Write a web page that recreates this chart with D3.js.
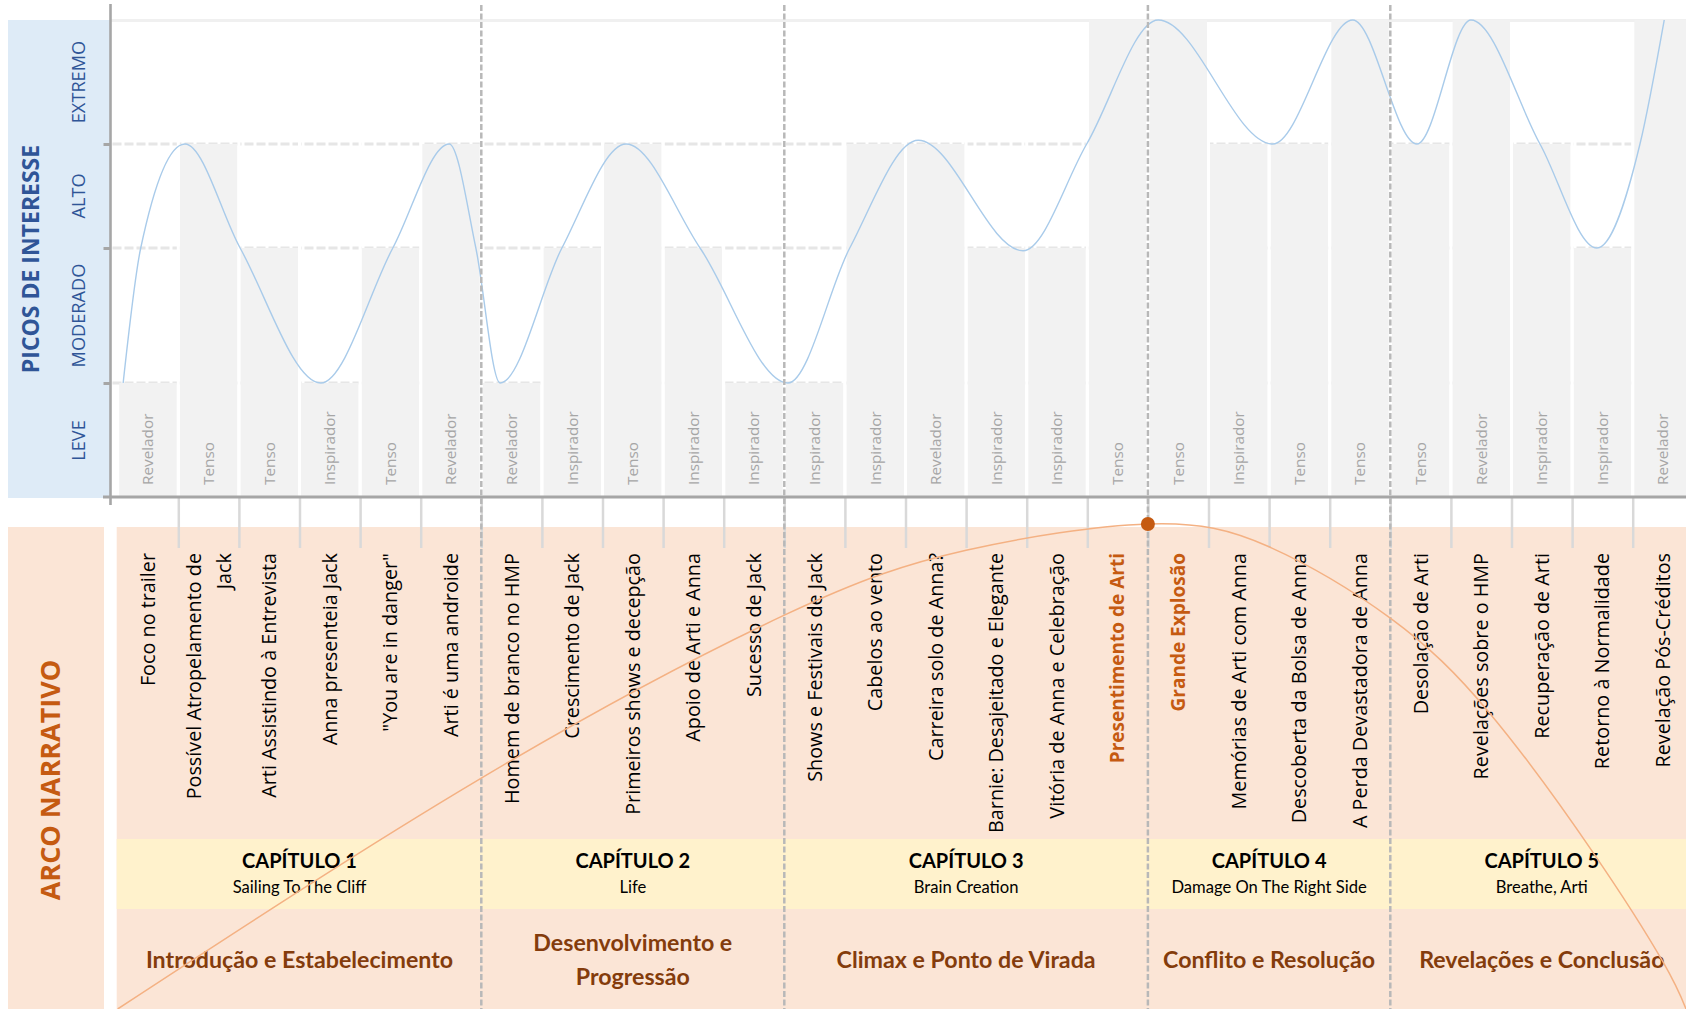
<!DOCTYPE html>
<html>
<head>
<meta charset="utf-8">
<script src="https://cdn.jsdelivr.net/npm/d3@7"></script>
<style>
  html, body { margin: 0; padding: 0; background: #fff; overflow: hidden; }
  svg { display: block; }
</style>
</head>
<body>
<script>
// ---- data ----
var categories = [
  "Foco no trailer", "Possível Atropelamento de\nJack", "Arti Assistindo à Entrevista",
  "Anna presenteia Jack", "\"You are in danger\"", "Arti é uma androide",
  "Homem de branco no HMP", "Crescimento de Jack", "Primeiros shows e decepção",
  "Apoio de Arti e Anna", "Sucesso de Jack",
  "Shows e Festivais de Jack", "Cabelos ao vento", "Carreira solo de Anna?",
  "Barnie: Desajeitado e Elegante", "Vitória de Anna e Celebração", "Presentimento de Arti",
  "Grande Explosão", "Memórias de Arti com Anna", "Descoberta da Bolsa de Anna",
  "A Perda Devastadora de Anna",
  "Desolação de Arti", "Revelações sobre o HMP", "Recuperação de Arti",
  "Retorno à Normalidade", "Revelação Pós-Créditos"
];
var beatTypes = [
  "Revelador", "Tenso", "Tenso", "Inspirador", "Tenso", "Revelador",
  "Revelador", "Inspirador", "Tenso", "Inspirador", "Inspirador",
  "Inspirador", "Inspirador", "Revelador", "Inspirador", "Inspirador", "Tenso",
  "Tenso", "Inspirador", "Tenso", "Tenso",
  "Tenso", "Revelador", "Inspirador", "Inspirador", "Revelador"
];
// 1 = Leve, 2 = Moderado, 3 = Alto, 4 = Extremo
var interestLevels = [1, 3, 2, 1, 2, 3, 1, 2, 3, 2, 1, 1, 3, 3, 2, 2, 4, 4, 3, 3, 4, 3, 4, 3, 2, 4];
var levelNames = ["LEVE", "MODERADO", "ALTO", "EXTREMO"];
var highlighted = ["Presentimento de Arti", "Grande Explosão"];

// smooth interest line (position in category units, level)
var interestCurvePos = [0.09, 0.38, 1.11, 2.02, 3.35, 4.54, 5.47, 5.91, 6.31, 7.33, 8.39, 9.61, 11.06,
  12.08, 13.21, 14.94, 15.99, 17.17, 19.06, 20.38, 21.44, 22.33, 23.47, 24.41, 25.12, 25.52];
var interestCurveLevel = [1, 2, 3, 2, 1, 2, 3, 2, 1, 2, 3, 2, 1,
  2, 3.03, 1.98, 3, 4, 3, 4, 3, 4, 3, 2, 3, 4];

// narrative arc (position in category units, height 0-100)
var arcPos = [0, 6, 11, 14, 17, 19, 21, 22.64, 24.35, 25.5, 25.88];
var arcHeight = [0, 47.6, 81.2, 94.6, 100, 95.3, 80.6, 61, 32.2, 9.7, 0];
var arcPeakPos = 17;

var chapterNames = ["CAPÍTULO 1", "CAPÍTULO 2", "CAPÍTULO 3", "CAPÍTULO 4", "CAPÍTULO 5"];
var chapterTitles = ["Sailing To The Cliff", "Life", "Brain Creation", "Damage On The Right Side", "Breathe, Arti"];
var chapterPhases = ["Introdução e Estabelecimento", "Desenvolvimento e\nProgressão", "Climax e Ponto de Virada",
  "Conflito e Resolução", "Revelações e Conclusão"];
var chapterSizes = [6, 5, 6, 4, 5];

// ---- layout ----
var W = 1686, H = 1009;
var plotLeft = 117.7, step = 60.6, plotRight = plotLeft + categories.length * step;
var axisX = 110.5, axisY = 497;
var panelTop = 527, bandTop = 839, bandBottom = 909;

var svg = d3.select("body").append("svg")
    .attr("width", W)
    .attr("height", H);

var x = d3.scaleBand()
    .domain(categories)
    .range([plotLeft, plotRight])
    .paddingInner(0.05)
    .paddingOuter(0.025);

var pos = d3.scaleLinear()
    .domain([0, categories.length])
    .range([plotLeft, plotRight]);

var y = d3.scaleLinear()
    .domain([0, 1, 2, 3, 4])
    .range([498, 383, 248, 144, 20]);

var arcY = d3.scaleLinear()
    .domain([0, 100])
    .range([H, 524]);

var chapterStart = [];
chapterSizes.reduce(function(acc, s) { chapterStart.push(acc); return acc + s; }, 0);
var chapterBounds = chapterStart.slice(1);

// ---- top chart ----
svg.append("rect")
    .attr("x", 8).attr("y", y(4))
    .attr("width", axisX - 8).attr("height", y(0) - y(4))
    .attr("fill", "#deebf7");

svg.append("line")
    .attr("x1", axisX).attr("x2", W)
    .attr("y1", y(4) + 0.5).attr("y2", y(4) + 0.5)
    .attr("stroke", "#f0f0f0").attr("stroke-width", 3);

svg.selectAll(".grid")
    .data([1, 2, 3])
  .enter().append("line")
    .attr("class", "grid")
    .attr("x1", axisX + 2).attr("x2", W)
    .attr("y1", function(d) { return y(d); })
    .attr("y2", function(d) { return y(d); })
    .attr("stroke", "#e6e6e6")
    .attr("stroke-width", 3)
    .attr("stroke-dasharray", "9,3");

svg.selectAll(".bar")
    .data(categories)
  .enter().append("rect")
    .attr("class", "bar")
    .attr("x", function(d) { return x(d); })
    .attr("y", function(d, i) { return y(interestLevels[i]); })
    .attr("width", x.bandwidth())
    .attr("height", function(d, i) { return y(0) - y(interestLevels[i]); })
    .attr("fill", "#f2f2f2");

// white gaps between columns
svg.selectAll(".gap")
    .data(categories)
  .enter().append("rect")
    .attr("class", "gap")
    .attr("x", function(d) { return x(d) + x.bandwidth(); })
    .attr("y", y(4) + 2)
    .attr("width", x.step() - x.bandwidth())
    .attr("height", y(0) - y(4) - 2)
    .attr("fill", "#fff");

svg.selectAll(".beat")
    .data(categories)
  .enter().append("text")
    .attr("class", "beat")
    .attr("transform", function(d) { return "translate(" + (x(d) + x.bandwidth() / 2) + ",485) rotate(-90)"; })
    .attr("dy", "0.35em")
    .style("font-family", "'Open Sans', sans-serif")
    .style("font-size", "15.3px")
    .style("fill", "#a6a6a6")
    .text(function(d, i) { return beatTypes[i]; });

var interestLine = d3.line()
    .x(function(d) { return pos(d[0]); })
    .y(function(d) { return y(d[1]); })
    .curve(d3.curveMonotoneX);

svg.append("path")
    .datum(d3.zip(interestCurvePos, interestCurveLevel))
    .attr("d", interestLine)
    .attr("fill", "none")
    .attr("stroke", "#a9cbea")
    .attr("stroke-width", 1.4);

// y axis
svg.append("g")
    .attr("transform", "translate(" + axisX + ",0)")
    .call(d3.axisLeft(y).tickValues([1, 2, 3]).tickSize(7).tickFormat(""))
    .call(function(g) { g.select(".domain").remove(); })
    .call(function(g) { g.selectAll(".tick line").attr("stroke", "#a6a6a6").attr("stroke-width", 3); });

svg.append("line")
    .attr("x1", axisX).attr("x2", axisX)
    .attr("y1", 4).attr("y2", 505)
    .attr("stroke", "#a6a6a6").attr("stroke-width", 2.6);

svg.selectAll(".level")
    .data(levelNames)
  .enter().append("text")
    .attr("class", "level")
    .attr("transform", function(d, i) { return "translate(79," + (y(i) + y(i + 1)) / 2 + ") rotate(-90)"; })
    .attr("dy", "0.35em")
    .attr("text-anchor", "middle")
    .style("font-family", "'Open Sans', sans-serif")
    .style("font-size", "18.2px")
    .style("fill", "#2f5597")
    .text(function(d) { return d; });

svg.append("text")
    .attr("transform", "translate(31," + (y(0) + y(4)) / 2 + ") rotate(-90)")
    .attr("dy", "0.35em")
    .attr("text-anchor", "middle")
    .style("font-family", "'Open Sans', sans-serif")
    .style("font-weight", "bold")
    .style("font-size", "23px")
    .style("fill", "#2f5597")
    .text("PICOS DE INTERESSE");

// ---- lower panel ----
svg.append("rect")
    .attr("x", 8).attr("y", panelTop)
    .attr("width", 96).attr("height", H - panelTop)
    .attr("fill", "#fbe5d6");

svg.append("rect")
    .attr("x", plotLeft - 1).attr("y", panelTop)
    .attr("width", W - plotLeft + 1).attr("height", H - panelTop)
    .attr("fill", "#fbe5d6");

svg.append("rect")
    .attr("x", plotLeft - 1).attr("y", bandTop)
    .attr("width", W - plotLeft + 1).attr("height", bandBottom - bandTop)
    .attr("fill", "#fff2cc");

svg.append("text")
    .attr("transform", "translate(51,780) rotate(-90)")
    .attr("dy", "0.35em")
    .attr("text-anchor", "middle")
    .style("font-family", "'Open Sans', sans-serif")
    .style("font-weight", "bold")
    .style("font-size", "27px")
    .style("fill", "#c55a11")
    .text("ARCO NARRATIVO");

// x ticks
svg.append("g")
    .attr("transform", "translate(0," + axisY + ")")
    .call(d3.axisBottom(pos).tickValues(d3.range(1, categories.length)).tickSize(51).tickFormat(""))
    .call(function(g) { g.select(".domain").remove(); })
    .call(function(g) { g.selectAll(".tick line").attr("stroke", "#d9d9d9").attr("stroke-width", 2.5); });

svg.append("line")
    .attr("x1", 103).attr("x2", W)
    .attr("y1", axisY).attr("y2", axisY)
    .attr("stroke", "#a6a6a6").attr("stroke-width", 3);

// chapter dividers
svg.selectAll(".divider")
    .data(chapterBounds)
  .enter().append("line")
    .attr("class", "divider")
    .attr("x1", function(d) { return pos(d); })
    .attr("x2", function(d) { return pos(d); })
    .attr("y1", 5).attr("y2", H)
    .attr("stroke", "#b8b8b8")
    .attr("stroke-width", 2.5)
    .attr("stroke-dasharray", "6,2.5");

// category labels
categories.forEach(function(c) {
  var lines = c.split("\n");
  var hl = highlighted.indexOf(c) >= 0;
  lines.forEach(function(line, j) {
    var off = (j - (lines.length - 1) / 2) * 30;
    svg.append("text")
        .attr("transform", "translate(" + (x(c) + x.bandwidth() / 2 + off) + ",553) rotate(-90)")
        .attr("dy", "0.35em")
        .attr("text-anchor", "end")
        .style("font-family", "'Open Sans', sans-serif")
        .style("font-size", hl ? "19px" : "19.8px")
        .style("font-weight", hl ? "bold" : "normal")
        .style("fill", hl ? "#c55a11" : "#000")
        .text(line);
  });
});

// chapter texts
chapterNames.forEach(function(name, i) {
  var cx = pos(chapterStart[i] + chapterSizes[i] / 2);
  svg.append("text")
      .attr("x", cx).attr("y", 868)
      .attr("text-anchor", "middle")
      .style("font-family", "Lato, sans-serif")
      .style("font-weight", "bold")
      .style("font-size", "20px")
      .style("fill", "#000")
      .text(name);
  svg.append("text")
      .attr("x", cx).attr("y", 893)
      .attr("text-anchor", "middle")
      .style("font-family", "Lato, sans-serif")
      .style("font-size", "16.6px")
      .style("fill", "#000")
      .text(chapterTitles[i]);
  var lines = chapterPhases[i].split("\n");
  lines.forEach(function(line, j) {
    svg.append("text")
        .attr("x", cx)
        .attr("y", lines.length > 1 ? 951 + j * 34 : 968)
        .attr("text-anchor", "middle")
        .style("font-family", "Lato, sans-serif")
        .style("font-weight", "bold")
        .style("font-size", "23.2px")
        .style("fill", "#843c0c")
        .text(line);
  });
});

// narrative arc
var arcLine = d3.line()
    .x(function(d) { return pos(d[0]); })
    .y(function(d) { return arcY(d[1]); })
    .curve(d3.curveNatural);

svg.append("path")
    .datum(d3.zip(arcPos, arcHeight))
    .attr("d", arcLine)
    .attr("fill", "none")
    .attr("stroke", "#f4b183")
    .attr("stroke-width", 1.5);

svg.append("circle")
    .attr("cx", pos(arcPeakPos))
    .attr("cy", arcY(d3.max(arcHeight)))
    .attr("r", 7)
    .attr("fill", "#c55a11");
</script>
</body>
</html>
